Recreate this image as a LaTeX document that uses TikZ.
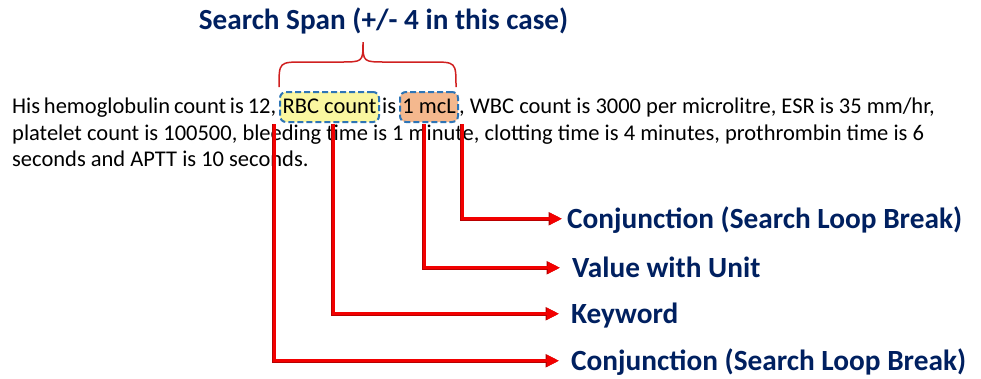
\documentclass[tikz,border=0pt]{standalone}
\usepackage{fontspec}
\setmainfont{Carlito}
\usetikzlibrary{arrows.meta}
\definecolor{navy}{HTML}{002060}
\definecolor{boxblue}{HTML}{2E75B6}
\definecolor{hlyellow}{HTML}{FAF7A0}
\definecolor{hlpeach}{HTML}{F4B88E}
\definecolor{arrred}{HTML}{F20000}
\definecolor{arrdark}{HTML}{B80000}
\definecolor{bracered}{HTML}{D02020}
\begin{document}
\begin{tikzpicture}[x=1bp,y=-1bp,
  body/.style={anchor=base west, inner sep=0pt, font=\fontsize{22.5bp}{27bp}\selectfont, text=black},
  hl/.style={draw=boxblue, dash pattern=on 6bp off 3bp, line width=2bp, rounded corners=6bp,
    inner sep=0pt, minimum height=30bp, text height=15bp, text depth=3bp,
    font=\fontsize{22.5bp}{27bp}\selectfont, text=black, anchor=center},
  lab/.style={anchor=base west, inner sep=0pt, text height=18.5bp, text depth=0bp,
    font=\bfseries\fontsize{29.3bp}{34bp}\selectfont, text=navy},
  ttl/.style={anchor=base, inner sep=0pt, font=\bfseries\fontsize{29.2bp}{34bp}\selectfont, text=navy},
  arr/.style={draw=arrred, line width=3bp, -{Triangle[length=12bp,width=11bp]},
    preaction={draw=arrdark, line width=4.2bp, -{Triangle[length=13.5bp,width=12.5bp]}}},
  bracestyle/.style={draw=bracered, line width=1.5bp}
]
\useasboundingbox (0,0) rectangle (981,378);

% title
\node[ttl] (title) at (383.5,29) {Search Span (+/- 4 in this case)};

% brace
\draw[bracestyle] (279,87) .. controls (279,62) .. (304,62) -- (340,62)
  .. controls (363,62) .. (363,42) .. controls (363,62) .. (386,62) -- (431,62)
  .. controls (456,62) .. (456,87);

% highlighted boxes
\node[hl, fill=hlyellow, minimum width=99bp] (rbc) at (329.5,107) {RBC count};
\node[hl, fill=hlpeach, minimum width=58bp] (mcl) at (429,107) {1 mcL};

% body text
\node[body] (t1a) at (12,113) {\spaceskip=0.17em His hemoglobulin count is 12,};
\node[body] (t1b) at (382,113) {is};
\node[body] (t1c) at (459,113) {, WBC count is 3000 per microlitre, ESR is 35 mm/hr,};
\node[body] (t2) at (12,140) {platelet count is 100500, bleeding time is 1 minute, clotting time is 4 minutes, prothrombin time is 6};
\node[body] (t3) at (12,166) {seconds and APTT is 10 seconds.};

% labels
\node[lab] (l1) at (567,228) {Conjunction (Search Loop Break)};
\node[lab] (l2) at (572,277) {Value with Unit};
\node[lab] (l3) at (571,323) {Keyword};
\node[lab] (l4) at (571,370) {Conjunction (Search Loop Break)};

% connector start points
\coordinate (c1) at (274,124);
\coordinate (c2) at (333,124);
\coordinate (c3) at (424,124);
\coordinate (c4) at (462,124);

\draw[arr, shorten >=5bp] (c4) |- (l1.west);
\draw[arr, shorten >=12bp] (c3) |- (l2.west);
\draw[arr, shorten >=12bp] (c2) |- (l3.west);
\draw[arr, shorten >=12bp] (c1) |- (l4.west);
\end{tikzpicture}
\end{document}
